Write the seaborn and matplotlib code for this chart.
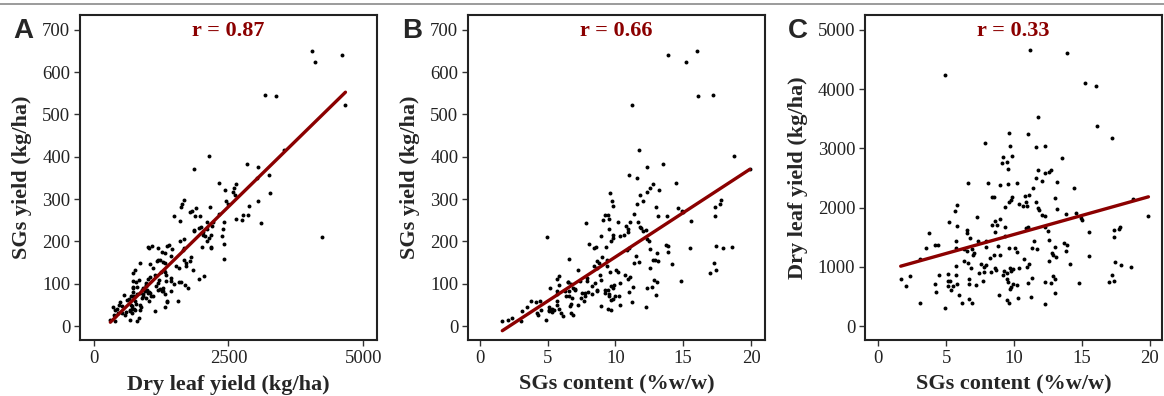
import pandas as pd
import matplotlib.pyplot as plt
from matplotlib.lines import Line2D
import seaborn as sns

# SGs content (%w/w) per plot
sgs_content = [
    11.2, 13.9, 4.95, 15.2, 16.05, 11.75, 16.1, 9.6, 11.0, 17.2,
    7.85, 9.73, 11.6, 12.3, 13.5, 9.85, 9.2, 9.45, 9.1, 9.55,
    11.8, 12.75, 12.55, 12.3, 11.6, 12.05, 13.2, 6.6, 8.05, 10.2,
    8.95, 9.55, 11.4, 14.45, 10.8, 11.1, 8.4, 8.55, 9.85, 9.8,
    13.0, 9.65, 11.65, 18.75, 5.8, 10.35, 10.65, 10.9, 10.95, 11.8,
    11.85, 5.65, 9.3, 13.15, 13.8, 14.6, 12.05, 12.25, 14.9, 19.9,
    7.25, 9.0, 8.6, 15.0, 5.2, 8.75, 8.4, 9.35, 10.85, 11.0,
    12.3, 5.8, 17.8, 17.7, 12.5, 15.55, 17.35, 17.35, 8.6, 6.5,
    6.5, 3.75, 9.35, 6.75, 7.35, 5.7, 12.55, 7.9, 11.5, 4.15,
    4.4, 3.5, 5.7, 7.9, 8.85, 9.6, 10.05, 11.35, 13.7, 13.9,
    13.05, 6.3, 6.9, 11.7, 6.55, 7.05, 10.2, 13.85, 12.8, 12.9,
    7.0, 8.5, 8.95, 15.5, 13.1, 8.25, 3.1, 10.7, 6.35, 12.55,
    6.6, 17.45, 7.55, 11.1, 7.95, 5.7, 10.95, 14.15, 17.9, 7.75,
    8.6, 6.8, 9.7, 9.9, 10.35, 18.6, 9.25, 8.65, 8.3, 9.8,
    9.45, 9.2, 7.75, 7.45, 5.1, 5.7, 4.5, 2.35, 11.3, 12.85,
    13.05, 17.25, 1.65, 6.7, 9.5, 9.55, 7.7, 5.1, 5.3, 17.4,
    17.0, 14.8, 11.0, 12.3, 12.7, 9.95, 10.25, 9.8, 9.7, 6.65,
    5.8, 5.1, 5.5, 7.2, 4.2, 2.05, 5.35, 4.25, 13.0, 5.95,
    8.9, 11.25, 10.3, 6.7, 9.45, 3.05, 6.15, 6.9, 9.65, 12.25,
    4.9,
]

# dry leaf yield (kg/ha)
dry_leaf_yield = [
    4670, 4606, 4240, 4105, 4054, 3536, 3373, 3266, 3249, 3181,
    3097, 3046, 3029, 3046, 2843, 2872, 2860, 2770, 2748, 2646,
    2630, 2635, 2607, 2579, 2494, 2450, 2438, 2416, 2416, 2421,
    2382, 2393, 2325, 2331, 2190, 2213, 2185, 2179, 2185, 2134,
    2162, 2095, 2100, 2145, 2038, 2061, 2027, 2100, 2033, 1993,
    1960, 1948, 2004, 1971, 1886, 1903, 1869, 1858, 1819, 1858,
    1841, 1802, 1779, 1790, 1757, 1712, 1706, 1678, 1661, 1678,
    1678, 1689, 1678, 1633, 1599, 1593, 1622, 1498, 1588, 1622,
    1577, 1571, 1520, 1481, 1441, 1441, 1453, 1436, 1436, 1368,
    1368, 1323, 1323, 1340, 1351, 1318, 1312, 1323, 1396, 1368,
    1329, 1295, 1295, 1295, 1261, 1239, 1244, 1273, 1227, 1199,
    1199, 1199, 1205, 1188, 1171, 1154, 1137, 1132, 1104, 1098,
    1059, 1081, 1047, 1042, 1025, 1019, 1002, 1042, 1030, 1002,
    985, 980, 974, 968, 980, 1002, 935, 946, 918, 923,
    890, 862, 912, 890, 878, 856, 856, 839, 811, 845,
    788, 856, 800, 794, 800, 749, 766, 760, 755, 760,
    738, 721, 732, 738, 732, 704, 693, 664, 625, 704,
    704, 681, 676, 687, 709, 676, 608, 580, 563, 524,
    529, 495, 479, 456, 439, 394, 394, 383, 394, 366,
    310,
]

# SGs yield (kg/ha)
sgs_yield = [
    523, 640, 210, 624, 651, 415, 543, 314, 357, 547,
    243, 296, 351, 375, 384, 283, 263, 262, 250, 253,
    310, 336, 327, 317, 289, 295, 322, 159, 194, 247,
    213, 229, 265, 337, 237, 246, 184, 186, 215, 209,
    281, 202, 245, 402, 118, 213, 216, 229, 223, 235,
    232, 110, 186, 259, 260, 278, 225, 228, 271, 370,
    133, 162, 153, 269, 91, 150, 143, 157, 180, 185,
    206, 98, 299, 289, 200, 248, 281, 260, 137, 105,
    103, 59, 142, 100, 106, 82, 182, 113, 165, 57,
    60, 46, 75, 106, 120, 127, 132, 150, 191, 190,
    173, 82, 89, 152, 83, 87, 127, 176, 157, 155,
    84, 102, 108, 184, 153, 95, 35, 121, 70, 138,
    70, 189, 79, 116, 81, 58, 110, 147, 184, 78,
    85, 67, 94, 96, 101, 186, 86, 82, 76, 90,
    84, 79, 71, 66, 45, 49, 39, 20, 92, 109,
    103, 148, 13, 53, 76, 72, 59, 39, 40, 132,
    125, 107, 81, 91, 93, 70, 71, 65, 61, 47,
    41, 35, 37, 49, 30, 14, 33, 25, 73, 31,
    47, 56, 49, 31, 41, 12, 24, 26, 38, 45,
    15,
]

panel_letters = ['A', 'B', 'C']
r_labels = ['r = 0.87', 'r = 0.66', 'r = 0.33']
x_labels = ['Dry leaf yield (kg/ha)', 'SGs content (%w/w)', 'SGs content (%w/w)']
y_labels = ['SGs yield (kg/ha)', 'SGs yield (kg/ha)', 'Dry leaf yield (kg/ha)']

df = pd.DataFrame({'content': sgs_content, 'dry': dry_leaf_yield, 'sgs': sgs_yield})

sns.set_style('ticks')
plt.rcParams['font.family'] = ['Liberation Serif', 'DejaVu Serif']

RED = '#8B0000'
fig = plt.figure(figsize=(11.64, 3.96), dpi=100)

# page border line at the top of the crop
fig.add_artist(Line2D([0, 1], [1 - 4 / 396] * 2, color='#8a8a8a', lw=1.2,
                      transform=fig.transFigure))

panels = [
    # x col, y col, axes left (px), xlim, ylim, xticks, yticks, ylabel x, letter x (px)
    ('dry', 'sgs', 80, (-253, 5255), (-33, 735), [0, 2500, 5000], range(0, 701, 100), -0.195, 13),
    ('content', 'sgs', 468, (-0.88, 21.03), (-33, 735), range(0, 21, 5), range(0, 701, 100), -0.195, 402),
    ('content', 'dry', 865, (-0.98, 20.9), (-236, 5253), range(0, 21, 5), range(0, 5001, 1000), -0.226, 788),
]

for i, (xc, yc, left, xlim, ylim, xt, yt, ylx, letter_x) in enumerate(panels):
    ax = fig.add_axes([left / 1164, 56 / 396, 297 / 1164, 325 / 396])
    sns.regplot(data=df, x=xc, y=yc, ax=ax, ci=None, color='black',
                scatter_kws=dict(s=8, linewidths=0, alpha=1),
                line_kws=dict(color=RED, lw=2.4))
    ax.set_xlim(*xlim)
    ax.set_ylim(*ylim)
    ax.set_xticks(list(xt))
    ax.set_yticks(list(yt))

    for s in ax.spines.values():
        s.set_linewidth(1.5)
        s.set_color('#222222')
    ax.tick_params(length=4, width=1.0, color='#333333', labelsize=13.5,
                   labelcolor='#222222', pad=3)

    ax.set_xlabel(x_labels[i], fontsize=16, fontweight='bold')
    ax.set_ylabel(y_labels[i], fontsize=16, fontweight='bold')
    ax.xaxis.label.set_va('center')
    ax.yaxis.label.set_va('center')
    ax.xaxis.set_label_coords(0.5, -0.138)
    ax.yaxis.set_label_coords(ylx, 0.5)

    ax.text(0.5, 0.95, r_labels[i], transform=ax.transAxes, ha='center', va='center',
            color=RED, fontsize=16, fontweight='bold')

    fig.text(letter_x / 1164, 1 - 18 / 396, panel_letters[i], fontsize=20,
             fontweight='bold', family=['Liberation Sans', 'DejaVu Sans'],
             ha='left', va='top')

fig.savefig('out.png', dpi=100)
